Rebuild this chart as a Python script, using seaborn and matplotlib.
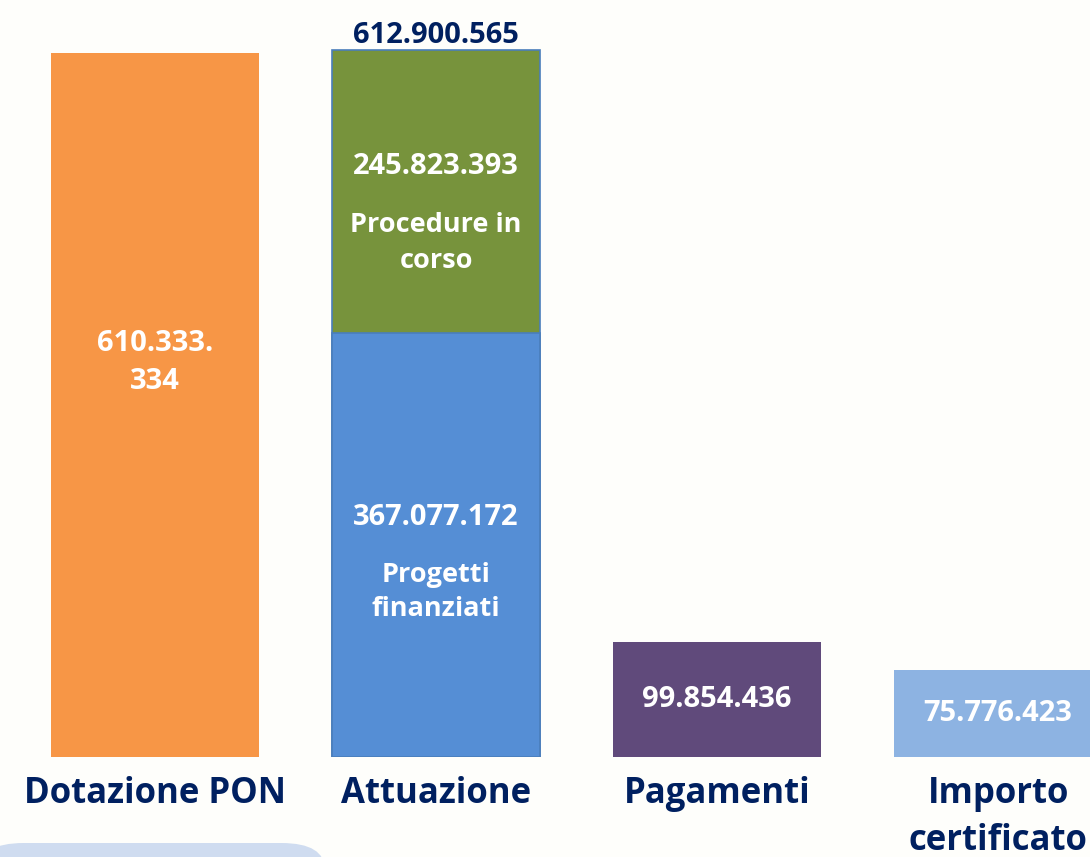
import matplotlib
matplotlib.use("Agg")
import matplotlib.pyplot as plt
import seaborn as sns
import pandas as pd
from matplotlib.patches import FancyBboxPatch

# ---- data ----
categories = ["Dotazione PON", "Attuazione", "Pagamenti", "Importo\ncertificato"]
base_values = [610333334, 367077172, 99854436, 75776423]      # bottom segment of each bar
stack_values = [0, 245823393, 0, 0]                            # upper segment (Attuazione only)
total_attuazione = 612900565
value_labels = ["610.333.\n334", "367.077.172", "99.854.436", "75.776.423"]
stack_label = "245.823.393"
total_label = "612.900.565"
segment_notes = {"base": "Progetti\nfinanziati", "stack": "Procedure in\ncorso"}

base_colors = ["#f79646", "#558ed5", "#604a7b", "#8db3e2"]
stack_color = "#77933c"
navy = "#002060"
bg = "#fefefb"

sns.set_theme(style="white")
plt.rcParams["font.family"] = ["Open Sans", "DejaVu Sans"]

fig = plt.figure(figsize=(10.90, 8.57), dpi=100, facecolor=bg)
ax = fig.add_axes([0, 100 / 857, 1, 757 / 857])
ax.set_facecolor("none")

df = pd.DataFrame({"cat": categories, "base": base_values, "stack": stack_values})
df["top"] = df["base"] + df["stack"]

sns.barplot(data=df, x="cat", y="top", order=categories, color=stack_color,
            width=0.74, ax=ax, saturation=1, edgecolor="#4a7ebb", linewidth=1.2)
sns.barplot(data=df, x="cat", y="base", order=categories, palette=base_colors,
            hue="cat", legend=False, width=0.74, ax=ax, saturation=1, linewidth=0)

p = ax.patches[len(categories) + 1]
p.set_edgecolor("#4a7ebb")
p.set_linewidth(1.2)
for i, patch in enumerate(ax.patches[:len(categories)]):
    if i != 1:
        patch.set_visible(False)

ax.set_xlim(-0.552, 3.327)
ax.set_ylim(0, 656e6)
ax.set_xlabel("")
ax.set_ylabel("")
ax.set_yticks([])
ax.set_xticks(range(len(categories)))
ax.set_xticklabels(categories, fontsize=25, fontweight="bold", color=navy,
                   linespacing=1.38)
ax.tick_params(axis="x", length=0, pad=14)
for s in ax.spines.values():
    s.set_visible(False)

lab_kw = dict(ha="center", va="center", color="white", fontweight="bold", fontsize=21)
note_kw = {**lab_kw, "fontsize": 19.5}

ax.text(0, base_values[0] * 0.56, value_labels[0], linespacing=1.42, **lab_kw)
ax.text(1, base_values[1] * 0.565, value_labels[1], **lab_kw)
ax.text(1, base_values[1] * 0.39, segment_notes["base"], linespacing=1.38, **note_kw)
ax.text(1, base_values[1] + stack_values[1] * 0.59, stack_label, **lab_kw)
ax.text(1, base_values[1] + stack_values[1] * 0.32, segment_notes["stack"],
        linespacing=1.5, **note_kw)
ax.text(1, total_attuazione, total_label, ha="center", va="bottom", color=navy,
        fontweight="bold", fontsize=21)
ax.text(2, base_values[2] * 0.5, value_labels[2], **lab_kw)
ax.text(3, base_values[3] * 0.5, value_labels[3], **lab_kw)

# decorative shape bottom-left
deco = FancyBboxPatch((-20 / 1090, -40 / 857), 345 / 1090, 54 / 857,
                      boxstyle="round,pad=0,rounding_size=0.04",
                      transform=fig.transFigure, facecolor="#cfdcf0",
                      edgecolor="none", zorder=0, mutation_aspect=857 / 1090)
fig.patches.append(deco)

fig.savefig("out.png", dpi=100, facecolor=bg)
